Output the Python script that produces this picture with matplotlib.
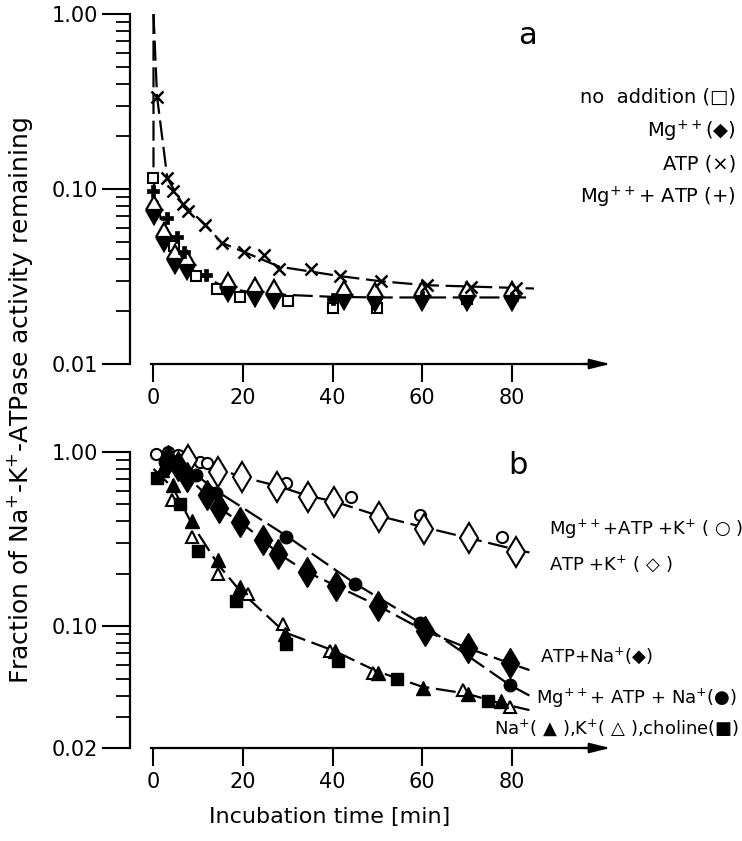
import matplotlib
matplotlib.use("Agg")
import matplotlib.pyplot as plt
from matplotlib.ticker import FixedLocator, FixedFormatter, NullFormatter, LogLocator

plt.rcParams['font.family'] = ['DejaVu Sans']
plt.rcParams['mathtext.default'] = 'regular'

# ---------------- Panel a data ----------------
a_noadd_t = [0, 4.5, 9.5, 14.1, 19.4, 30, 40, 50, 70]
a_noadd_v = [0.115, 0.047, 0.032, 0.027, 0.024, 0.023, 0.021, 0.021, 0.0235]
a_mg_t = [0.2, 2.3, 4.8, 7.4, 16.7, 22.6, 27, 42.5, 49.5, 60, 70, 80]
a_mg_v = [0.0755, 0.053, 0.040, 0.0366, 0.0275, 0.0258, 0.0252, 0.0247, 0.0241, 0.0245, 0.0245, 0.0245]
a_atp_t = [0.8, 3.1, 4.3, 6.5, 7.7, 11.6, 15.2, 20.2, 24.7, 28.1, 35.1, 41.6, 50.8, 61, 71, 81]
a_atp_v = [0.336, 0.115, 0.098, 0.082, 0.0745, 0.0625, 0.0493, 0.0437, 0.0418, 0.035, 0.035,
           0.0318, 0.0297, 0.0282, 0.0277, 0.0272]
a_mgatp_t = [0, 3, 5.2, 6.9, 11.8, 40, 60, 80]
a_mgatp_v = [0.098, 0.068, 0.053, 0.0437, 0.0324, 0.0236, 0.024, 0.0235]

# trend curves drawn in panel a
a_curve_atp_t = [0, 0.8, 3.1, 6.5, 11.6, 15.2, 20.2, 28.1, 41.6, 50.8, 61, 71, 81, 85]
a_curve_atp_v = [1.0, 0.336, 0.115, 0.082, 0.0625, 0.0493, 0.0437, 0.036, 0.0318, 0.0297,
                 0.0282, 0.0277, 0.0272, 0.027]
a_curve_low_t = [0, 0, 2.3, 4.8, 7.4, 11.8, 16.7, 22.6, 27, 40, 50, 60, 70, 80, 84]
a_curve_low_v = [1.0, 0.11, 0.055, 0.042, 0.036, 0.031, 0.027, 0.0255, 0.025, 0.0242,
                 0.024, 0.024, 0.024, 0.024, 0.024]

# ---------------- Panel b data ----------------
b_mgatpk_t = [0.5, 3.3, 5.5, 10.4, 11.9, 29.7, 44.2, 59.5, 77.9]
b_mgatpk_v = [0.98, 1.0, 0.96, 0.88, 0.86, 0.66, 0.553, 0.434, 0.326]
b_atpk_t = [7.8, 14.5, 19.7, 27.5, 34.6, 40.4, 50.3, 60.4, 70.6, 81]
b_atpk_v = [0.90, 0.77, 0.72, 0.63, 0.553, 0.519, 0.425, 0.36, 0.322, 0.268]
b_atpna_t = [3.3, 5.5, 7.5, 11.9, 14.7, 19.3, 24.5, 27.9, 34.4, 40.7, 50.2, 60.6, 70.3, 79.6]
b_atpna_v = [0.90, 0.83, 0.72, 0.567, 0.475, 0.398, 0.312, 0.261, 0.204, 0.171, 0.131,
             0.094, 0.0748, 0.0613]
b_mgatpna_t = [2.5, 9.5, 14, 29.7, 45, 59.5, 79.6]
b_mgatpna_v = [0.88, 0.74, 0.58, 0.326, 0.175, 0.105, 0.0458]
b_na_t = [1.8, 4.4, 8.5, 14.5, 19.3, 29.4, 40.5, 50.2, 60.2, 70.3, 77.7]
b_na_v = [0.79, 0.65, 0.40, 0.239, 0.168, 0.090, 0.072, 0.054, 0.0444, 0.0411, 0.037]
b_k_t = [4.1, 8.5, 14.5, 21.2, 29, 39.4, 49, 69.2, 79.6]
b_k_v = [0.53, 0.326, 0.20, 0.153, 0.103, 0.072, 0.054, 0.0433, 0.0344]
b_chol_t = [0.7, 5.9, 10, 18.4, 29.7, 41.3, 54.3, 74.7]
b_chol_v = [0.71, 0.50, 0.27, 0.14, 0.079, 0.063, 0.050, 0.037]

# trend curves drawn in panel b
b_curve_k_t = [0, 7.8, 14.5, 19.7, 27.5, 34.6, 40.4, 50.3, 60.4, 70.6, 81, 84]
b_curve_k_v = [0.98, 0.90, 0.80, 0.72, 0.64, 0.56, 0.52, 0.43, 0.37, 0.32, 0.275, 0.265]
b_curve_atpna_t = [0, 3.3, 7.5, 11.9, 14.7, 19.3, 24.5, 27.9, 34.4, 40.7, 50.2, 60.6, 70.3, 79.6, 84]
b_curve_atpna_v = [0.95, 0.90, 0.72, 0.567, 0.475, 0.398, 0.312, 0.261, 0.204, 0.171, 0.131,
                   0.094, 0.0748, 0.0613, 0.056]
b_curve_mgatpna_t = [0, 2.5, 9.5, 14, 29.7, 45, 59.5, 79.6, 84]
b_curve_mgatpna_v = [0.95, 0.88, 0.74, 0.60, 0.33, 0.176, 0.105, 0.046, 0.040]
b_curve_na_t = [0, 4.4, 8.5, 14.5, 19.3, 29.4, 40.5, 50, 60, 70, 77.7, 84]
b_curve_na_v = [0.80, 0.62, 0.39, 0.225, 0.16, 0.092, 0.072, 0.055, 0.045, 0.041, 0.036, 0.033]

x_ticks = [0, 20, 40, 60, 80]
a_yticks = [1.0, 0.1, 0.01]
a_ylabels = ["1.00", "0.10", "0.01"]
b_yticks = [1.0, 0.1, 0.02]
b_ylabels = ["1.00", "0.10", "0.02"]

W, H = 742, 841
fig = plt.figure(figsize=(W / 100, H / 100), dpi=100)

def rect(left, top, right, bottom):
    return [left / W, 1 - bottom / H, (right - left) / W, (bottom - top) / H]

ax_a = fig.add_axes(rect(130, 14, 610, 364))
ax_b = fig.add_axes(rect(130, 452, 610, 748))

XMIN, XMAX = -5.25, 102

LS = (0, (9, 3))
LW = 1.6

def style(ax, ymin, ymax, yt, yl):
    ax.set_yscale('log')
    ax.set_xlim(XMIN, XMAX)
    ax.set_ylim(ymin, ymax)
    for s in ['top', 'right']:
        ax.spines[s].set_visible(False)
    ax.spines['left'].set_linewidth(1.6)
    ax.spines['bottom'].set_linewidth(1.6)
    ax.spines['bottom'].set_bounds(-0.6, XMAX - 1)
    ax.yaxis.set_major_locator(FixedLocator(yt))
    ax.yaxis.set_major_formatter(FixedFormatter(yl))
    ax.yaxis.set_minor_locator(LogLocator(base=10, subs=range(2, 10)))
    ax.yaxis.set_minor_formatter(NullFormatter())
    ax.set_xticks(x_ticks)
    ax.tick_params(axis='y', which='major', direction='out', length=20, width=1.5,
                   labelsize=15, pad=3)
    ax.tick_params(axis='y', which='minor', direction='out', length=10, width=1.3)
    ax.tick_params(axis='x', which='major', direction='out', length=13, width=1.5,
                   labelsize=15, pad=4)
    ax.annotate('', xy=(XMAX, ymin), xytext=(XMAX - 6, ymin), xycoords='data',
                arrowprops=dict(arrowstyle='-|>,head_length=1.2,head_width=0.3',
                                color='black', lw=1.6, shrinkA=0, shrinkB=0),
                annotation_clip=False)
    ax.patch.set_alpha(0)

style(ax_a, 0.01, 1.0, a_yticks, a_ylabels)
style(ax_b, 0.02, 1.0, b_yticks, b_ylabels)

# ---- panel a drawing ----
ax_a.plot(a_curve_atp_t, a_curve_atp_v, color='black', lw=LW, ls=LS, zorder=2)
ax_a.plot(a_curve_low_t, a_curve_low_v, color='black', lw=LW, ls=LS, zorder=2)
mk = dict(ls='none', color='black', zorder=4, clip_on=False)
ax_a.plot(a_noadd_t, a_noadd_v, marker='s', ms=7, mfc='white', mec='black', mew=1.5, **mk)
ax_a.plot(a_mg_t, a_mg_v, marker='d', ms=14, fillstyle='bottom', mfc='black',
          mfcalt='white', mec='black', mew=1.6, **mk)
ax_a.plot(a_atp_t, a_atp_v, marker='x', ms=8, mew=1.8, **mk)
ax_a.plot(a_mgatp_t, a_mgatp_v, marker='P', ms=8, mfc='black', mec='black', mew=0.5, **mk)

# ---- panel b drawing ----
for t, v in [(b_curve_k_t, b_curve_k_v), (b_curve_atpna_t, b_curve_atpna_v),
             (b_curve_mgatpna_t, b_curve_mgatpna_v), (b_curve_na_t, b_curve_na_v)]:
    ax_b.plot(t, v, color='black', lw=LW, ls=LS, zorder=2)
ax_b.plot(b_mgatpk_t, b_mgatpk_v, marker='o', ms=8, mfc='white', mec='black', mew=1.5, **mk)
ax_b.plot(b_atpk_t, b_atpk_v, marker='d', ms=15, mfc='white', mec='black', mew=1.5, **mk)
ax_b.plot(b_atpna_t, b_atpna_v, marker='d', ms=15, mfc='black', mec='black', **mk)
ax_b.plot(b_mgatpna_t, b_mgatpna_v, marker='o', ms=9, mfc='black', mec='black', **mk)
ax_b.plot(b_k_t, b_k_v, marker='^', ms=9, mfc='white', mec='black', mew=1.5, **mk)
ax_b.plot(b_na_t, b_na_v, marker='^', ms=10, mfc='black', mec='black', **mk)
ax_b.plot(b_chol_t, b_chol_v, marker='s', ms=8, mfc='black', mec='black', **mk)

# ---- texts ----
fs_a = 14
fs = 13
fig.text(528 / W, 1 - 36 / H, 'a', fontsize=22, ha='center', va='center')
fig.text(518 / W, 1 - 465 / H, 'b', fontsize=22, ha='center', va='center')

fig.text(736 / W, 1 - 97 / H, 'no  addition (\u25a1)', fontsize=fs_a, ha='right', va='center')
fig.text(736 / W, 1 - 131 / H, 'Mg$^{++}$(\u25c6)', fontsize=fs_a, ha='right', va='center')
fig.text(736 / W, 1 - 164 / H, 'ATP (\u00d7)', fontsize=fs_a, ha='right', va='center')
fig.text(736 / W, 1 - 197 / H, 'Mg$^{++}$+ ATP (+)', fontsize=fs_a, ha='right', va='center')

fig.text(549 / W, 1 - 529 / H, 'Mg$^{++}$+ATP +K$^{+}$ ( \u25cb )', fontsize=fs, ha='left', va='center')
fig.text(549 / W, 1 - 564 / H, 'ATP +K$^{+}$ ( \u25c7 )', fontsize=fs, ha='left', va='center')
fig.text(540 / W, 1 - 656 / H, 'ATP+Na$^{+}$(\u25c6)', fontsize=fs, ha='left', va='center')
fig.text(536 / W, 1 - 698 / H, 'Mg$^{++}$+ ATP + Na$^{+}$(\u25cf)', fontsize=fs, ha='left', va='center')
fig.text(739 / W, 1 - 728 / H, 'Na$^{+}$( \u25b2 ),K$^{+}$( \u25b3 ),choline(\u25a0)', fontsize=fs,
         ha='right', va='center')

fig.text(20 / W, 1 - 400 / H, 'Fraction of Na$^{+}$-K$^{+}$-ATPase activity remaining',
         fontsize=18, rotation=90, ha='center', va='center')
fig.text(330 / W, 1 - 817 / H, 'Incubation time [min]', fontsize=16, ha='center', va='center')

fig.savefig('out.png', dpi=100)
